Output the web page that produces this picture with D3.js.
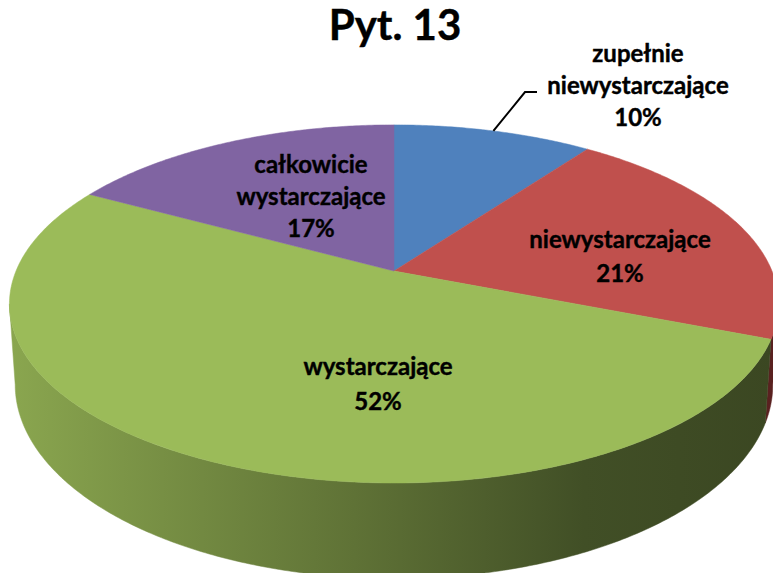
<!DOCTYPE html>
<html>
<head>
<meta charset="utf-8">
<script src="https://cdn.jsdelivr.net/npm/d3@7"></script>
<style>
  body { margin: 0; background: #fff; }
  text { font-family: Lato, "Open Sans", sans-serif; font-weight: bold; fill: #000; stroke: #000; stroke-width: 0.4px; }
</style>
</head>
<body>
<div id="chart"></div>
<script>
var title = "Pyt. 13";
var categories = ["zupełnie niewystarczające", "niewystarczające", "wystarczające", "całkowicie wystarczające"];
var values = [10, 21, 52, 17];
var kleuren = ["#4f81bd", "#c0504d", "#9bbb59", "#8064a2"];
var zijKleuren = [["#2f4d72", "#243b58"], ["#7a2f2d", "#5a2120"], ["#8aa64f", "#3b4722"], ["#4d3c62", "#3a2d4a"]];

var width = 773, height = 573;
// perspective ellipse settings
var cx = 394, cy = 271, A = 378, B = 173, k = 0.184, depth = 78, bottomScale = 0.985;

// label layout: [x, first baseline, line step]
var labelPos = [[638, 62, 32], [620, 248, 34], [378, 375, 35], [311, 173, 32]];

var svg = d3.select("#chart").append("svg")
	.attr("width", width)
	.attr("height", height);

var pie = d3.pie().sort(null).value(function (d) { return d; });
var arcs = pie(values);
var total = d3.sum(values);

function proj(phi, bottom) {
	var u = Math.sin(phi), v = -Math.cos(phi), w = 1 - k * v;
	if (bottom) return [cx + A * u / w * bottomScale, cy + B * v / w + depth / w];
	return [cx + A * u / w, cy + B * v / w];
}

function arcPoints(a0, a1, bottom) {
	var n = Math.max(2, Math.ceil(Math.abs(a1 - a0) / 0.01));
	var pts = [];
	for (var i = 0; i <= n; i++) pts.push(proj(a0 + (a1 - a0) * i / n, bottom));
	return pts;
}

var line = d3.line();

// gradients for the side walls
var defs = svg.append("defs");
zijKleuren.forEach(function (c, i) {
	var g = defs.append("linearGradient").attr("id", "side" + i)
		.attr("gradientUnits", "userSpaceOnUse")
		.attr("x1", 10).attr("x2", 775).attr("y1", 0).attr("y2", 0);
	g.append("stop").attr("offset", "0%").style("stop-color", c[0]);
	g.append("stop").attr("offset", "45%").style("stop-color", d3.interpolateRgb(c[0], c[1])(0.55));
	g.append("stop").attr("offset", "75%").style("stop-color", d3.interpolateRgb(c[0], c[1])(0.92));
	g.append("stop").attr("offset", "100%").style("stop-color", c[1]);
});

// visible part of the wall lies between the two horizontal extremes
var visStart = Math.acos(-k), visEnd = 2 * Math.PI - Math.acos(-k);

var walls = svg.append("g");
arcs.forEach(function (d, i) {
	var a0 = Math.max(d.startAngle, visStart), a1 = Math.min(d.endAngle, visEnd);
	if (a1 <= a0) return;
	var pts = arcPoints(a0, a1, false).concat(arcPoints(a1, a0, true));
	walls.append("path")
		.attr("d", line(pts) + "Z")
		.attr("fill", "url(#side" + i + ")")
		.attr("stroke", "url(#side" + i + ")")
		.attr("stroke-width", 0.5);
});

var tops = svg.append("g");
arcs.forEach(function (d, i) {
	var pts = [[cx, cy]].concat(arcPoints(d.startAngle, d.endAngle, false));
	tops.append("path")
		.attr("d", line(pts) + "Z")
		.attr("fill", kleuren[i])
		.attr("stroke", kleuren[i])
		.attr("stroke-width", 0.5);
});

// title
svg.append("text")
	.attr("x", 395)
	.attr("y", 40)
	.attr("text-anchor", "middle")
	.style("font-size", "42px")
	.text(title);

// leader line for the first slice
var blueMid = proj((arcs[0].startAngle + arcs[0].endAngle) / 2, false);
svg.append("path")
	.attr("d", line([blueMid, [525, 92], [537, 92]]))
	.attr("fill", "none")
	.attr("stroke", "#000")
	.attr("stroke-width", 2);

// labels
arcs.forEach(function (d, i) {
	var pct = Math.round(d.value / total * 100) + "%";
	var words = categories[i].split(" ");
	var lines = words.concat([pct]);
	var p = labelPos[i];
	var t = svg.append("text")
		.attr("text-anchor", "middle")
		.style("font-size", "24px");
	lines.forEach(function (l, j) {
		t.append("tspan")
			.attr("x", p[0])
			.attr("y", p[1] + j * p[2])
			.text(l);
	});
});
</script>
</body>
</html>
